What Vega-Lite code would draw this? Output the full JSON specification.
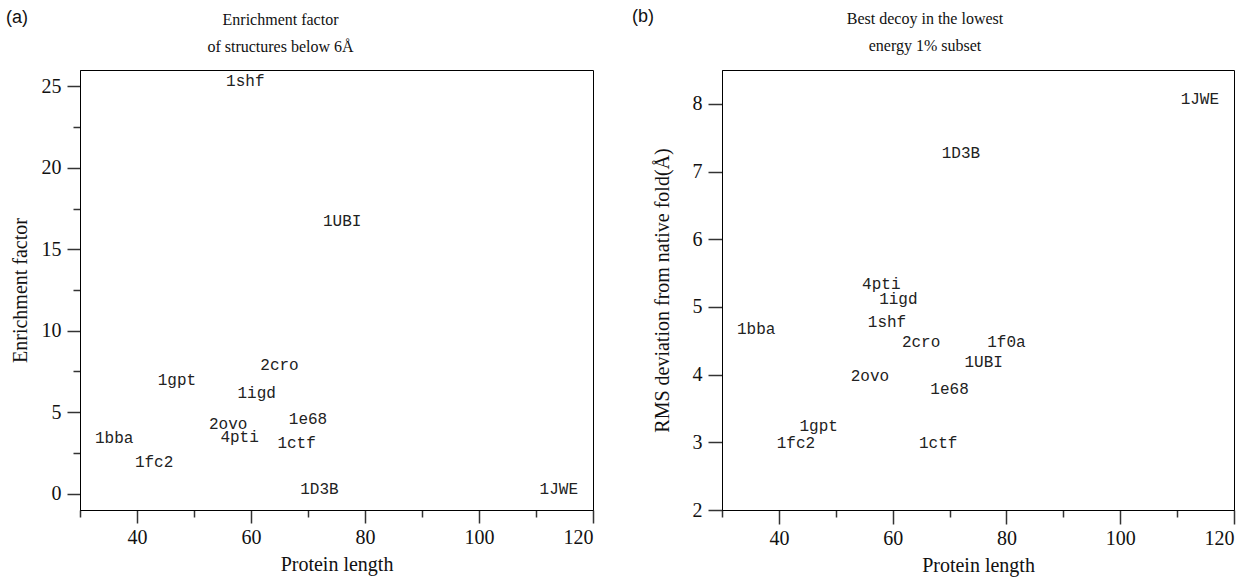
{
  "$schema": "https://vega.github.io/schema/vega-lite/v6.json",
  "padding": {"left": 5, "top": 7, "right": 5, "bottom": 3},
  "background": "white",
  "config": {
    "view": {"stroke": "black", "strokeWidth": 1},
    "axis": {"labelFont": "Liberation Serif", "labelFontSize": 20, "labelColor": "#111", "titleFont": "Liberation Serif", "titleFontSize": 20, "titleFontWeight": "normal", "titleColor": "#111", "domainColor": "black", "domainWidth": 1, "tickColor": "#333", "tickWidth": 1.5, "grid": false, "labelOverlap": false},
    "title": {"font": "Liberation Serif", "fontSize": 16, "fontWeight": "normal", "color": "#111", "lineHeight": 27}
  },
  "datasets": {
    "enrich": [
      {"protein": "1shf", "length": 59, "factor": 25.0},
      {"protein": "1UBI", "length": 76, "factor": 16.4},
      {"protein": "2cro", "length": 65, "factor": 7.6},
      {"protein": "1gpt", "length": 47, "factor": 6.65},
      {"protein": "1igd", "length": 61, "factor": 5.87},
      {"protein": "2ovo", "length": 56, "factor": 3.98},
      {"protein": "4pti", "length": 58, "factor": 3.2},
      {"protein": "1bba", "length": 36, "factor": 3.12},
      {"protein": "1fc2", "length": 43, "factor": 1.62},
      {"protein": "1e68", "length": 70, "factor": 4.29},
      {"protein": "1ctf", "length": 68, "factor": 2.81},
      {"protein": "1D3B", "length": 72, "factor": 0},
      {"protein": "1JWE", "length": 114, "factor": 0}
    ],
    "rms": [
      {"protein": "4pti", "length": 58, "rmsd": 5.27},
      {"protein": "1igd", "length": 61, "rmsd": 5.05},
      {"protein": "1shf", "length": 59, "rmsd": 4.71},
      {"protein": "1bba", "length": 36, "rmsd": 4.6},
      {"protein": "2cro", "length": 65, "rmsd": 4.41},
      {"protein": "1f0a", "length": 80, "rmsd": 4.41},
      {"protein": "1UBI", "length": 76, "rmsd": 4.11},
      {"protein": "2ovo", "length": 56, "rmsd": 3.91},
      {"protein": "1e68", "length": 70, "rmsd": 3.71},
      {"protein": "1gpt", "length": 47, "rmsd": 3.16},
      {"protein": "1fc2", "length": 43, "rmsd": 2.92},
      {"protein": "1ctf", "length": 68, "rmsd": 2.92},
      {"protein": "1D3B", "length": 72, "rmsd": 7.2},
      {"protein": "1JWE", "length": 114, "rmsd": 8.0}
    ]
  },
  "bounds": "flush",
  "spacing": 129,
  "hconcat": [
    {
      "width": 513,
      "height": 440,
      "title": {"text": ["Enrichment factor", "of structures below 6Å"], "anchor": "middle", "dx": -56, "offset": -46},
      "layer": [
        {
          "data": {"name": "enrich"},
          "mark": {"type": "text", "font": "Liberation Mono", "fontSize": 16, "baseline": "alphabetic", "align": "center", "color": "#222"},
          "encoding": {
            "x": {"field": "length", "type": "quantitative", "scale": {"domain": [30, 120], "nice": false, "zero": false},
              "axis": {"title": "Protein length", "values": [30, 40, 50, 60, 70, 80, 90, 100, 110, 120], "format": "d", "labelExpr": "datum.value % 20 === 0 ? datum.label : ''", "tickSize": {"condition": {"test": "datum.value % 20 === 0", "value": 13}, "value": 7}, "labelPadding": 4, "titlePadding": 7}},
            "y": {"field": "factor", "type": "quantitative", "scale": {"domain": [-1, 26], "nice": false, "zero": false},
              "axis": {"title": "Enrichment factor", "values": [0, 2.5, 5, 7.5, 10, 12.5, 15, 17.5, 20, 22.5, 25], "labelExpr": "datum.value % 5 === 0 ? datum.label : ''", "tickSize": {"condition": {"test": "datum.value % 5 === 0", "value": 13}, "value": 7}, "labelPadding": 6, "titlePadding": 11}},
            "text": {"field": "protein"}
          }
        },
        {
          "data": {"values": [{"tag": "(a)"}]},
          "mark": {"type": "text", "font": "Liberation Sans", "fontSize": 18, "clip": false, "baseline": "middle", "align": "center", "color": "#111"},
          "encoding": {
            "x": {"datum": 18.95, "type": "quantitative"},
            "y": {"datum": 29.2, "type": "quantitative"},
            "text": {"field": "tag"}
          }
        }
      ]
    },
    {
      "width": 512,
      "height": 440,
      "title": {"text": ["Best decoy in the lowest", "energy 1% subset"], "anchor": "middle", "dx": -53, "offset": -46},
      "layer": [
        {
          "data": {"name": "rms"},
          "mark": {"type": "text", "font": "Liberation Mono", "fontSize": 16, "baseline": "alphabetic", "align": "center", "color": "#222"},
          "encoding": {
            "x": {"field": "length", "type": "quantitative", "scale": {"domain": [30, 120], "nice": false, "zero": false},
              "axis": {"title": "Protein length", "values": [30, 40, 50, 60, 70, 80, 90, 100, 110, 120], "format": "d", "labelExpr": "datum.value % 20 === 0 ? datum.label : ''", "tickSize": {"condition": {"test": "datum.value % 20 === 0", "value": 14}, "value": 7}, "labelPadding": 4, "titlePadding": 7}},
            "y": {"field": "rmsd", "type": "quantitative", "scale": {"domain": [2, 8.5], "nice": false, "zero": false},
              "axis": {"title": "RMS deviation from native fold(Å)", "values": [2, 2.5, 3, 3.5, 4, 4.5, 5, 5.5, 6, 6.5, 7, 7.5, 8, 8.5], "format": "d", "labelExpr": "datum.value % 1 === 0 ? datum.label : ''", "tickSize": {"condition": {"test": "datum.value % 1 === 0", "value": 14}, "value": 7}, "labelPadding": 6, "titlePadding": 20}},
            "text": {"field": "protein"}
          }
        },
        {
          "data": {"values": [{"tag": "(b)"}]},
          "mark": {"type": "text", "font": "Liberation Sans", "fontSize": 18, "clip": false, "baseline": "middle", "align": "center", "color": "#111"},
          "encoding": {
            "x": {"datum": 16.1, "type": "quantitative"},
            "y": {"datum": 9.28, "type": "quantitative"},
            "text": {"field": "tag"}
          }
        }
      ]
    }
  ]
}
